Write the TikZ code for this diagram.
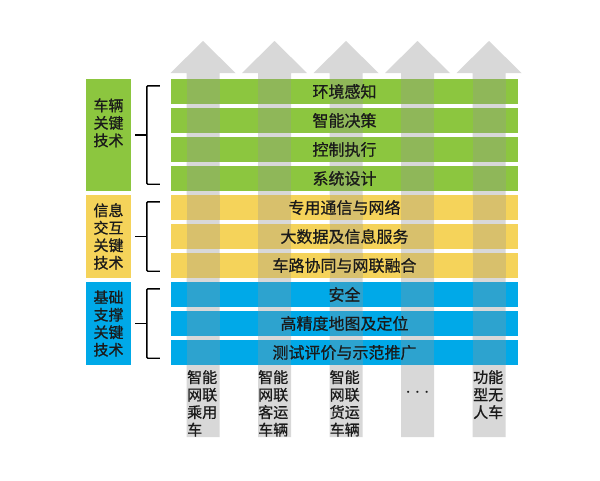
\documentclass[tikz,border=0pt]{standalone}
\usepackage{fontspec}
\setmainfont[FakeBold=0.8]{Noto Sans CJK SC}
\usetikzlibrary{positioning,calc}

\definecolor{techgreen}{HTML}{8CC63F}
\definecolor{techyellow}{HTML}{F5D35A}
\definecolor{techblue}{HTML}{00A9E8}
\definecolor{arrowgray}{HTML}{D8D8D8}
\definecolor{shadegray}{HTML}{979797}
\definecolor{labeltext}{HTML}{1A1A1A}

\tikzset{
  techbar/.style={minimum width=347pt, minimum height=25pt, inner sep=0pt, fill=#1},
  groupbox/.style={minimum width=45pt, inner sep=0pt, fill=#1, text=labeltext,
    align=center, font=\fontsize{15}{17.5}\selectfont},
  bartext/.style={text=labeltext, inner sep=0pt, font=\fontsize{16}{18}\selectfont},
  cartext/.style={text=labeltext, align=left, anchor=north west, inner sep=0pt,
    font=\fontsize{15}{17.5}\selectfont},
  bracket/.style={line width=1.4pt, rounded corners=1pt}
}

\begin{document}
\begin{tikzpicture}[x=1pt,y=-1pt]
  \useasboundingbox[fill=white] (0,0) rectangle (600,480);

  % Arrows behind the bars
  \foreach \c in {203,274.5,346,417.5,489} {
    \fill[arrowgray] ({\c-16.5},437) -- ({\c-16.5},73) -- ({\c-32.5},73) -- (\c,41)
      -- ({\c+32.5},73) -- ({\c+16.5},73) -- ({\c+16.5},437) -- cycle;
  }

  % Bars
  \foreach \i/\col in {0/techgreen,1/techgreen,2/techgreen,3/techgreen,
      4/techyellow,5/techyellow,6/techyellow,7/techblue,8/techblue,9/techblue} {
    \node[techbar=\col] (bar\i) at (344.5,{91.5+29*\i}) {};
  }

  % Shafts seen through the bars
  \foreach \i in {0,...,9} {
    \foreach \c in {203,274.5,346,417.5,489} {
      \fill[shadegray, opacity=0.3] ({\c-16.5},{79+29*\i}) rectangle ({\c+16.5},{104+29*\i});
    }
  }

  % Bar labels
  \foreach \i/\txt in {0/环境感知,1/智能决策,2/控制执行,3/系统设计,4/专用通信与网络,
      5/大数据及信息服务,6/车路协同与网联融合,7/安全,8/高精度地图及定位,9/测试评价与示范推广} {
    \node[bartext] (lbl\i) at (bar\i) {\txt};
  }

  % Group boxes
  \node[groupbox=techgreen, minimum height=112pt] (grp0) at (108.5,135) {车辆\\关键\\技术\\[8pt]};
  \node[groupbox=techyellow, minimum height=83pt] (grp1) at (108.5,236.5) {信息\\交互\\关键\\技术};
  \node[groupbox=techblue, minimum height=83pt] (grp2) at (108.5,323.5) {基础\\支撑\\关键\\技术};

  % Brackets
  \foreach \g/\a/\b in {0/0/3,1/4/6,2/7/9} {
    \draw[bracket] ($(bar\a.north west)+(-11,7)$) -| ($(bar\b.south west)+(-24,-7)$) -- ++(13,0);
    \draw[bracket] ($(grp\g.east)+(4,0)$) -- ++(12,0);
  }

  % Vehicle types
  \node[cartext] (car1) at (187,370) {智能\\网联\\乘用\\车};
  \node[cartext] (car2) at (258,370) {智能\\网联\\客运\\车辆};
  \node[cartext] (car3) at (329.5,370) {智能\\网联\\货运\\车辆};
  \node[text=labeltext, inner sep=0pt, font=\fontsize{20}{20}\selectfont] (car4) at (417.5,393) {$\cdots$};
  \node[cartext] (car5) at (473,370) {功能\\型无\\人车};
\end{tikzpicture}
\end{document}
